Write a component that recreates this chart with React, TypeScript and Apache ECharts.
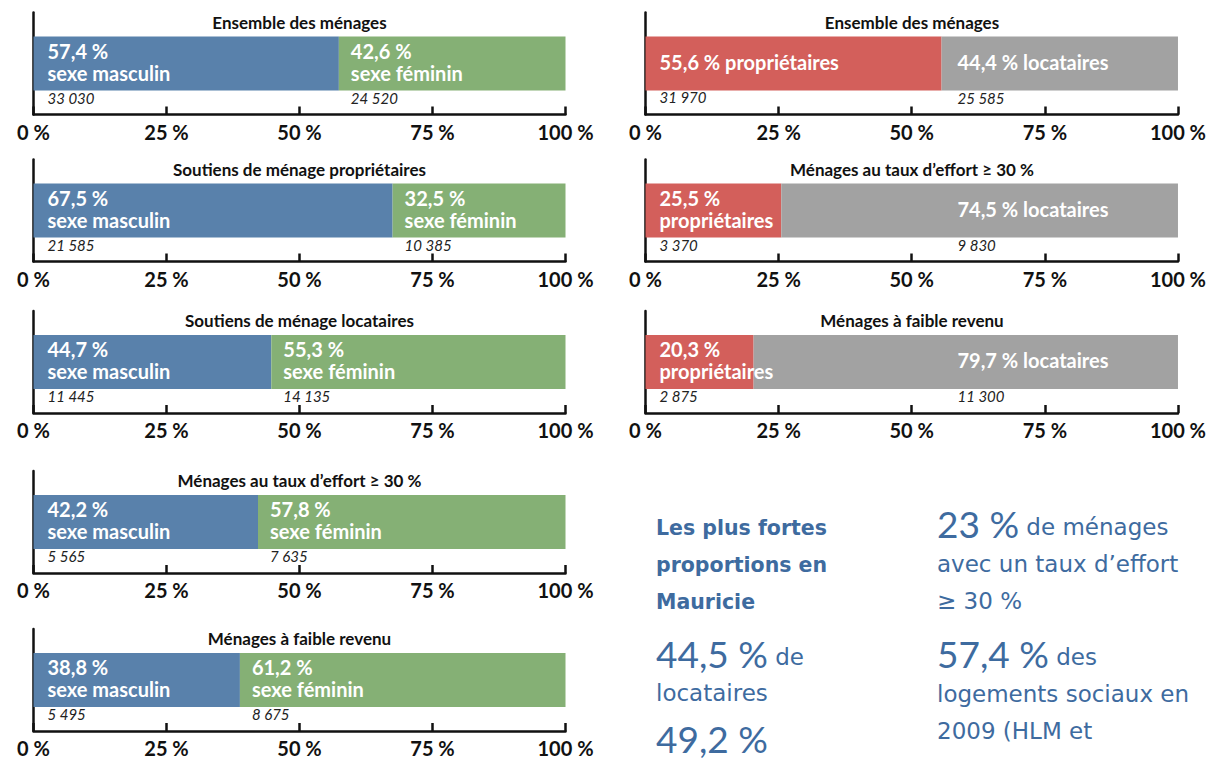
import React, { useEffect, useRef } from 'react';
import * as echarts from 'echarts';

// ---------- data ----------
const genderTitles = [
  'Ensemble des ménages',
  'Soutiens de ménage propriétaires',
  'Soutiens de ménage locataires',
  'Ménages au taux d’effort ≥ 30 %',
  'Ménages à faible revenu',
];
const malePct = [57.4, 67.5, 44.7, 42.2, 38.8];
const femalePct = [42.6, 32.5, 55.3, 57.8, 61.2];
const maleCount = ['33 030', '21 585', '11 445', '5 565', '5 495'];
const femaleCount = ['24 520', '10 385', '14 135', '7 635', '8 675'];

const tenureTitles = [
  'Ensemble des ménages',
  'Ménages au taux d’effort ≥ 30 %',
  'Ménages à faible revenu',
];
const ownerPct = [55.6, 25.5, 20.3];
const renterPct = [44.4, 74.5, 79.7];
const ownerCount = ['31 970', '3 370', '2 875'];
const renterCount = ['25 585', '9 830', '11 300'];

const axisMin = 0;
const axisMax = 100;
const axisStep = 25;

// ---------- layout / style ----------
const FONT = 'Lato, "Open Sans", sans-serif';
const SIDE_FONT = '"DejaVu Sans", Lato, sans-serif';
const BLUE = '#5981ab';
const GREEN = '#85b075';
const RED = '#d35f5b';
const GREY = '#a2a2a2';
const INK = '#111';
const TXT_BLUE = '#3e6b9f';

const genderCenters = [63.5, 210.5, 362, 522, 680];
const tenureCenters = [63.5, 210.5, 362];
const LEFT = { left: 33.5, width: 532 };
const RIGHT = { left: 645.5, width: 533 };
const GRID_H = 102;
const BAR_W = 54;
const LBL = 20;

const fmt = (v: number) => v.toFixed(1).replace('.', ',') + ' %';

const rich = {
  p: { color: '#fff', fontFamily: FONT, fontWeight: 'bold', fontSize: LBL, lineHeight: 22 },
  s: { color: '#fff', fontFamily: FONT, fontWeight: 'bold', fontSize: LBL, lineHeight: 42 },
  c: { color: '#222', fontFamily: FONT, fontStyle: 'italic', fontSize: 15, lineHeight: 28 },
  sw: {
    color: '#fff', fontFamily: FONT, fontWeight: 'bold', fontSize: LBL, lineHeight: 42,
    width: 166, align: 'left',
  },
  cw: {
    color: '#222', fontFamily: FONT, fontStyle: 'italic', fontSize: 15, lineHeight: 30,
    width: 166, align: 'left',
  },
};

export default function App() {
  const ref = useRef<HTMLDivElement>(null);

  useEffect(() => {
    const chart = echarts.init(ref.current!, null, { renderer: 'svg' });

    const grids: any[] = [];
    const xAxes: any[] = [];
    const yAxes: any[] = [];
    const series: any[] = [];
    const graphic: any[] = [];

    const addPanel = (center: number, box: { left: number; width: number }, title: string) => {
      const idx = grids.length;
      grids.push({ left: box.left, width: box.width, top: center - GRID_H / 2, height: GRID_H });
      xAxes.push({
        type: 'value',
        gridIndex: idx,
        min: axisMin,
        max: axisMax,
        interval: axisStep,
        axisLine: { show: true, lineStyle: { color: INK, width: 2.5 } },
        axisTick: { show: true, inside: true, length: 8, lineStyle: { color: INK, width: 2.5 } },
        axisLabel: {
          show: true,
          formatter: '{value} %',
          color: INK,
          fontFamily: FONT,
          fontWeight: 'bold',
          fontSize: 20,
          margin: 7,
        },
        splitLine: { show: false },
      });
      yAxes.push({
        type: 'category',
        gridIndex: idx,
        data: [''],
        axisLine: { show: true, lineStyle: { color: INK, width: 2.5 } },
        axisTick: { show: false },
        axisLabel: { show: false },
        splitLine: { show: false },
      });
      graphic.push({
        type: 'text',
        x: box.left + box.width / 2,
        y: center - 41.5,
        style: {
          text: title,
          fill: INK,
          fontFamily: FONT,
          fontWeight: 'bold',
          fontSize: 17,
          align: 'center',
          verticalAlign: 'middle',
        },
      });
      return idx;
    };

    const bar = (idx: number, stack: string, value: number, color: string, label: any) => ({
      type: 'bar',
      xAxisIndex: idx,
      yAxisIndex: idx,
      stack,
      barWidth: BAR_W,
      silent: true,
      data: [value],
      itemStyle: { color },
      label: { show: true, rich, ...label },
    });

    genderTitles.forEach((t, i) => {
      const idx = addPanel(genderCenters[i], LEFT, t);
      series.push(
        bar(idx, 'g' + i, malePct[i], BLUE, {
          position: [14, 3],
          formatter: `{p|${fmt(malePct[i])}}\n{p|sexe masculin}\n{c|${maleCount[i]}}`,
        }),
      );
      series.push(
        bar(idx, 'g' + i, femalePct[i], GREEN, {
          position: [12, 3],
          formatter: `{p|${fmt(femalePct[i])}}\n{p|sexe féminin}\n{c|${femaleCount[i]}}`,
        }),
      );
    });

    tenureTitles.forEach((t, i) => {
      const idx = addPanel(tenureCenters[i], RIGHT, t);
      const wide = ownerPct[i] >= 40;
      series.push(
        bar(idx, 't' + i, ownerPct[i], RED, {
          position: [14, wide ? 4 : 3],
          formatter: wide
            ? `{s|${fmt(ownerPct[i])} propriétaires}\n{c|${ownerCount[i]}}`
            : `{p|${fmt(ownerPct[i])}}\n{p|propriétaires}\n{c|${ownerCount[i]}}`,
        }),
      );
      series.push(
        bar(idx, 't' + i, renterPct[i], GREY, {
          position: ['100%', 4],
          align: 'right',
          offset: [-54.5, 0],
          formatter: `{sw|${fmt(renterPct[i])} locataires}\n{cw|${renterCount[i]}}`,
        }),
      );
    });

    // ---------- side text ----------
    const big = 37;
    const small = 23;
    const tok = (size: number, family: string, extra: any = {}) => ({
      fill: TXT_BLUE,
      fontFamily: family,
      fontSize: size,
      ...extra,
    });
    const sideRich = {
      b: tok(big, FONT),
      s: tok(small, SIDE_FONT, { padding: [8, 0, 0, 0] }),
    };
    const line = (x: number, y: number, text: string, style: any = {}) => ({
      type: 'text',
      x,
      y,
      style: {
        text,
        fill: TXT_BLUE,
        fontFamily: SIDE_FONT,
        fontSize: small,
        verticalAlign: 'middle',
        align: 'left',
        rich: sideRich,
        ...style,
      },
    });
    const bold = { fontWeight: 'bold', fontSize: 20.5 };
    graphic.push(
      line(656, 528, 'Les plus fortes', bold),
      line(656, 565, 'proportions en', bold),
      line(656, 602, 'Mauricie', bold),
      line(656, 653, '{b|44,5 %}{s| de}'),
      line(656, 693, 'locataires'),
      line(656, 738, '{b|49,2 %}'),
      line(937, 523, '{b|23 %}{s| de ménages}'),
      line(937, 564, 'avec un taux d’effort'),
      line(937, 601, '≥ 30 %'),
      line(937, 653, '{b|57,4 %}{s| des}'),
      line(937, 694, 'logements sociaux en'),
      line(937, 731, '2009 (HLM et'),
    );

    chart.setOption({
      animation: false,
      backgroundColor: '#fff',
      grid: grids,
      xAxis: xAxes,
      yAxis: yAxes,
      series,
      graphic,
    });

    return () => chart.dispose();
  }, []);

  return (
    <div
      ref={ref}
      style={{ position: 'fixed', left: 0, top: 0, width: 1209, height: 759, background: '#fff' }}
    />
  );
}
